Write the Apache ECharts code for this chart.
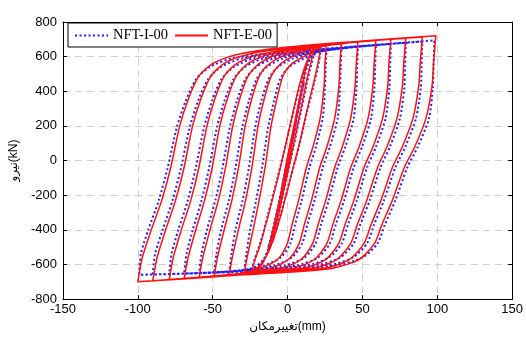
<!DOCTYPE html>
<html>
<head>
<meta charset="utf-8">
<script src="https://cdn.jsdelivr.net/npm/echarts@6/dist/echarts.min.js"></script>
<style>
  html, body { margin: 0; padding: 0; background: #fff; }
  #chart { width: 526px; height: 338px; }
</style>
</head>
<body>
<div id="chart"></div>
<script>
// axis ticks
const xTicks = [-150, -100, -50, 0, 50, 100, 150];
const yTicks = [-800, -600, -400, -200, 0, 200, 400, 600, 800];
const seriesNames = ["NFT-I-00", "NFT-E-00"];

// NFT-E-00 (red) : small cycles, then loops of growing amplitude
const redSmall = [[0,0],[3,120],[6,250],[4,170],[0,-10],[-3,-150],[-6,-300],[-4,-220],[0,-40],[4,150],[8,340],[11,470],[9,400],[5,230],[0,20],[-5,-220],[-10,-430],[-13,-520],[-11,-450],[-6,-260],[-1,-40],[4,180],[9,400],[13,560],[16,630],[18,645],[16,580],[13,470],[9,300],[4,90],[-1,-110],[-7,-350],[-12,-500],[-17,-600],[-21,-635],[-24,-645],[-22,-580],[-18,-480],[-13,-320],[-7,-120],[-1,100],[5,330],[10,500],[15,610],[20,650],[22,655],[21,590],[18,470],[13,290],[8,100],[2,-100],[-4,-300],[-10,-470],[-16,-580],[-22,-630],[-29,-657]];
const redLoop30 = [[-27,-560],[-23,-400],[-19,-230],[-15,-40],[-11,200],[-7,360],[-3,490],[3,560],[13,610],[26,672],[25,560],[24.4,430],[21.8,245],[17,80],[12.6,-40],[7.4,-230],[3,-370],[-0.2,-480],[-6.6,-570],[-17.5,-620],[-28,-645],[-39,-663]];
const redLoop40 = [[-36.9,-560],[-32.8,-400],[-28,-230],[-23.8,-40],[-19.7,200],[-15.5,360],[-10.7,490],[-4.5,560],[5.9,610],[20,655],[36,678],[35,560],[34.3,430],[31.5,245],[26.3,80],[21.5,-40],[16,-230],[11.2,-370],[7.7,-480],[0.8,-570],[-10.9,-620],[-30,-652],[-49,-669]];
const redLoop50 = [[-46.8,-560],[-42.3,-400],[-37.2,-230],[-32.7,-40],[-28.3,200],[-23.8,360],[-18.7,490],[-12,560],[-0.9,610],[20,655],[47,686],[45.9,560],[45.1,430],[42.2,245],[36.6,80],[31.5,-40],[25.5,-230],[20.4,-370],[16.7,-480],[9.3,-570],[-3.3,-620],[-30,-650],[-59,-675]];
const redLoop60 = [[-56.6,-560],[-51.8,-400],[-46.2,-230],[-41.4,-40],[-36.6,200],[-31.8,360],[-26.2,490],[-19,560],[-7,610],[25,665],[59,693],[57.8,560],[57,430],[53.8,245],[47.8,80],[42.2,-40],[35.8,-230],[30.2,-370],[26.2,-480],[18.2,-570],[4.6,-620],[-30,-652],[-69,-681]];
const redLoop70 = [[-66.4,-560],[-61.3,-400],[-55.4,-230],[-50.3,-40],[-45.2,200],[-40.1,360],[-34.1,490],[-26.5,560],[-13.7,610],[25,668],[69,700],[67.7,560],[66.9,430],[63.5,245],[57.1,80],[51.1,-40],[44.3,-230],[38.4,-370],[34.1,-480],[25.6,-570],[11.2,-620],[-30,-655],[-79,-687]];
const redLoop80 = [[-76.3,-560],[-70.9,-400],[-64.6,-230],[-59.2,-40],[-53.8,200],[-48.4,360],[-42.1,490],[-34,560],[-20.5,610],[25,670],[79,706],[77.6,560],[76.7,430],[73.1,245],[66.4,80],[60.1,-40],[52.9,-230],[46.6,-370],[42.1,-480],[33.1,-570],[17.8,-620],[-30,-658],[-90,-694]];
const redLoop90 = [[-87.1,-560],[-81.4,-400],[-74.8,-230],[-69.1,-40],[-63.4,200],[-57.7,360],[-51,490],[-42.5,560],[-28.2,610],[0,650],[45,685],[90,713],[88.6,560],[87.6,430],[83.8,245],[76.7,80],[70,-40],[62.4,-230],[55.8,-370],[51,-480],[41.5,-570],[25.4,-620],[-30,-660],[-100,-700]];
const redLoop100 = [[-97,-560],[-91,-400],[-84,-230],[-78,-40],[-72,200],[-66,360],[-59,490],[-50,560],[-35,610],[0,655],[50,690],[99,720],[97.5,560],[96.5,430],[92.5,245],[85,80],[78,-40],[70,-230],[63,-370],[58,-480],[48,-570],[31,-620],[0,-645],[-50,-670],[-100,-700]];

// NFT-I-00 (blue)
const blueSmall = [[0,0],[3,110],[6,235],[4,160],[0,-15],[-3,-150],[-6,-290],[-4,-210],[0,-35],[4,140],[8,320],[11,450],[9,385],[5,215],[0,10],[-5,-220],[-10,-420],[-13,-505],[-11,-440],[-6,-250],[-1,-30],[4,170],[9,385],[13,540],[16,605],[18,620],[16,560],[13,450],[9,285],[4,80],[-1,-115],[-7,-345],[-12,-490],[-17,-590],[-21,-620],[-24,-628],[-22,-570],[-18,-470],[-13,-310],[-7,-110],[-1,100],[5,320],[10,485],[15,590],[20,625],[22,630],[21,570],[18,455],[13,280],[8,95],[2,-100],[-4,-295],[-10,-460],[-16,-570],[-22,-615],[-29,-640]];
const blueLoop30 = [[-27.5,-540],[-25,-400],[-21,-230],[-17,-40],[-13,190],[-9,345],[-5,470],[1,540],[11,590],[26,646],[25.5,540],[25,420],[23.5,245],[19,80],[14.6,-40],[9.4,-230],[5,-370],[1.8,-480],[-4.6,-560],[-15.5,-605],[-28,-630],[-39,-646]];
const blueLoop40 = [[-37.5,-540],[-34.8,-400],[-30,-230],[-25.8,-40],[-21.7,190],[-17.5,345],[-12.7,470],[-6.5,540],[3.9,590],[20,625],[36,653],[35.5,540],[35,420],[33.5,245],[28.3,80],[23.5,-40],[18,-230],[13.2,-370],[9.7,-480],[2.8,-560],[-8.9,-605],[-30,-632],[-49,-648]];
const blueLoop50 = [[-47.5,-540],[-44.3,-400],[-39.2,-230],[-34.7,-40],[-30.3,190],[-25.8,345],[-20.7,470],[-14,540],[-2.9,590],[20,628],[47,660],[46.5,540],[46,420],[44.2,245],[38.6,80],[33.5,-40],[27.5,-230],[22.4,-370],[18.7,-480],[11.3,-560],[-1.3,-605],[-30,-634],[-59,-651]];
const blueLoop60 = [[-57.5,-540],[-53.8,-400],[-48.2,-230],[-43.4,-40],[-38.6,190],[-33.8,345],[-28.2,470],[-21,540],[-9,590],[25,635],[59,668],[58.5,540],[58,420],[55.8,245],[49.8,80],[44.2,-40],[37.8,-230],[32.2,-370],[28.2,-480],[20.2,-560],[6.6,-605],[-30,-636],[-69,-653]];
const blueLoop70 = [[-67.5,-540],[-63.3,-400],[-57.4,-230],[-52.3,-40],[-47.2,190],[-42.1,345],[-36.1,470],[-28.5,540],[-15.7,590],[25,638],[69,674],[68.5,540],[68,420],[65.5,245],[59.1,80],[53.1,-40],[46.3,-230],[40.4,-370],[36.1,-480],[27.6,-560],[13.2,-605],[-30,-638],[-79,-655]];
const blueLoop80 = [[-77.5,-540],[-72.9,-400],[-66.6,-230],[-61.2,-40],[-55.8,190],[-50.4,345],[-44.1,470],[-36,540],[-22.5,590],[25,640],[79,680],[78.5,540],[78,420],[75.1,245],[68.4,80],[62.1,-40],[54.9,-230],[48.6,-370],[44.1,-480],[35.1,-560],[19.8,-605],[-30,-640],[-90,-658]];
const blueLoop90 = [[-88.5,-540],[-83.4,-400],[-76.8,-230],[-71.1,-40],[-65.4,190],[-59.7,345],[-53,470],[-44.5,540],[-30.2,590],[0,625],[45,658],[90,687],[89.5,540],[89,420],[85.8,245],[78.7,80],[72,-40],[64.4,-230],[57.8,-370],[53,-480],[43.5,-560],[27.4,-605],[-30,-642],[-99,-660]];
const blueLoop100 = [[-98,-540],[-93,-400],[-86,-230],[-80,-40],[-74,190],[-68,345],[-61,470],[-52,540],[-37,590],[0,628],[50,662],[98,694],[97.5,540],[97,420],[94.5,245],[87,80],[80,-40],[72,-230],[65,-370],[60,-480],[50,-560],[33,-605],[0,-636],[-50,-648],[-99,-660]];

const redData = [].concat(redSmall, redLoop30, redLoop40, redLoop50, redLoop60, redLoop70, redLoop80, redLoop90, redLoop100);
const blueData = [].concat(blueSmall, blueLoop30, blueLoop40, blueLoop50, blueLoop60, blueLoop70, blueLoop80, blueLoop90, blueLoop100);

const chart = echarts.init(document.getElementById("chart"), null, { renderer: "canvas" });

const labelFont = "'Liberation Sans', 'DejaVu Sans', Arial, sans-serif";
const axisLine = { show: true, onZero: false, lineStyle: { color: "#000", width: 1 } };
const tick = { show: true, inside: true, length: 4, lineStyle: { color: "#000" } };
const grid = { show: true, lineStyle: { color: "#cfcfcf", type: [7, 5], width: 1 } };

const option = {
  animation: false,
  backgroundColor: "#fff",
  grid: { left: 62, right: 13, top: 22, bottom: 35 },
  legend: {
    data: seriesNames,
    left: 68,
    top: 23,
    orient: "horizontal",
    backgroundColor: "#fff",
    borderColor: "#000",
    borderWidth: 1,
    borderRadius: 0,
    padding: [5, 5, 4, 6],
    itemGap: 6,
    itemWidth: 33,
    itemHeight: 14,
    // hide the marker, keep only the line sample
    itemStyle: { opacity: 0, borderWidth: 0 },
    textStyle: { fontFamily: "'Liberation Serif', 'Times New Roman', serif", fontSize: 14.5, color: "#000" },
  },
  xAxis: [
    {
      type: "value",
      min: xTicks[0],
      max: xTicks[xTicks.length - 1],
      interval: 50,
      position: "bottom",
      axisLine: axisLine,
      axisTick: tick,
      splitLine: grid,
      axisLabel: { color: "#000", fontSize: 13, fontFamily: labelFont, margin: 4 },
      name: "تغییرمکان(mm)",
      nameLocation: "middle",
      nameGap: 20,
      nameTextStyle: { color: "#000", fontSize: 12, fontFamily: labelFont },
    },
    {
      type: "value",
      min: xTicks[0],
      max: xTicks[xTicks.length - 1],
      interval: 50,
      position: "top",
      axisLine: axisLine,
      axisTick: tick,
      splitLine: { show: false },
      axisLabel: { show: false },
    },
  ],
  yAxis: [
    {
      type: "value",
      min: yTicks[0],
      max: yTicks[yTicks.length - 1],
      interval: 200,
      position: "left",
      axisLine: axisLine,
      axisTick: tick,
      splitLine: grid,
      axisLabel: { color: "#000", fontSize: 13, fontFamily: labelFont, margin: 6 },
      name: "نیرو(kN)",
      nameLocation: "middle",
      nameGap: 42,
      nameRotate: 90,
      nameTextStyle: { color: "#000", fontSize: 12, fontFamily: labelFont },
    },
    {
      type: "value",
      min: yTicks[0],
      max: yTicks[yTicks.length - 1],
      interval: 200,
      position: "right",
      axisLine: axisLine,
      axisTick: tick,
      splitLine: { show: false },
      axisLabel: { show: false },
    },
  ],
  series: [
    {
      name: seriesNames[0],
      type: "line",
      data: blueData,
      symbol: "none",
      smooth: 0.25,
      lineStyle: { color: "#1f1fff", width: 2, type: [2, 2.5] },
      itemStyle: { color: "#1f1fff" },
    },
    {
      name: seriesNames[1],
      type: "line",
      data: redData,
      symbol: "none",
      smooth: 0.25,
      lineStyle: { color: "#ff1010", width: 1.5 },
      itemStyle: { color: "#ff1010" },
    },
  ],
};

chart.setOption(option);
</script>
</body>
</html>
